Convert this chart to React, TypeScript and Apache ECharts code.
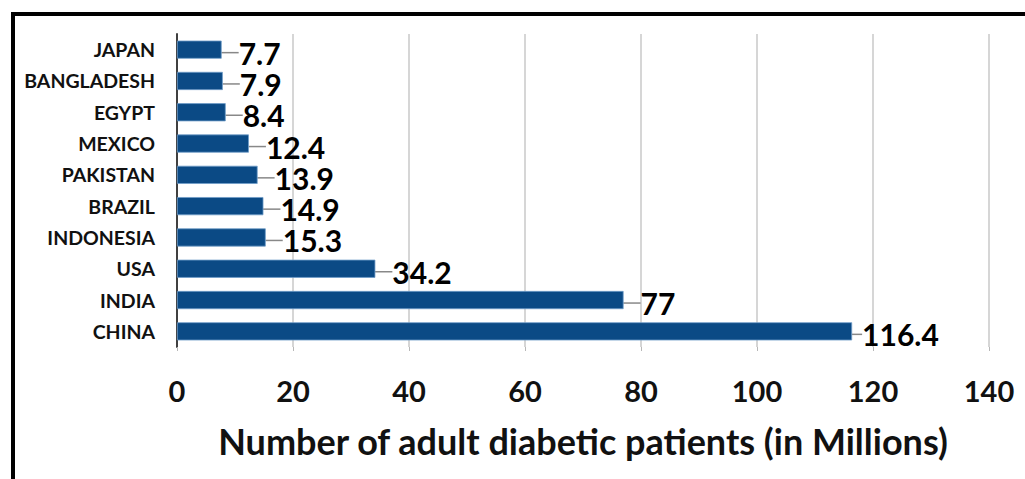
import React, { useEffect, useRef } from "react";
import * as echarts from "echarts";

// Countries listed bottom-to-top along the category axis
const countries = [
  "CHINA",
  "INDIA",
  "USA",
  "INDONESIA",
  "BRAZIL",
  "PAKISTAN",
  "MEXICO",
  "EGYPT",
  "BANGLADESH",
  "JAPAN",
];

// Adult diabetic patients, in millions
const patients = [116.4, 77, 34.2, 15.3, 14.9, 13.9, 12.4, 8.4, 7.9, 7.7];

const xTicks = { min: 0, max: 140, interval: 20 };

const FONT = "Lato, 'Open Sans', sans-serif";

export default function App() {
  const ref = useRef<HTMLDivElement>(null);

  useEffect(() => {
    if (!ref.current) return;
    const chart = echarts.init(ref.current, null, { renderer: "svg" });
    chart.setOption({
      animation: false,
      backgroundColor: "#ffffff",
      graphic: [
        {
          type: "rect",
          shape: { x: 13, y: 14, width: 1100, height: 600 },
          style: { fill: "none", stroke: "#000000", lineWidth: 4 },
          silent: true,
        },
      ],
      grid: { left: 177, right: 36, top: 34, bottom: 132, containLabel: false },
      xAxis: {
        type: "value",
        min: xTicks.min,
        max: xTicks.max,
        interval: xTicks.interval,
        axisLine: { show: false },
        axisTick: { show: true, length: 4, lineStyle: { color: "#b8b8b8" } },
        splitLine: { show: true, lineStyle: { color: "#c8c8c8", width: 1.5 } },
        axisLabel: {
          margin: 29,
          fontFamily: FONT,
          fontWeight: "bold",
          fontSize: 29,
          color: "#111111",
        },
        name: "Number of adult diabetic patients (in Millions)",
        nameLocation: "middle",
        nameGap: 76,
        nameTextStyle: {
          fontFamily: FONT,
          fontWeight: "bold",
          fontSize: 36,
          color: "#111111",
        },
      },
      yAxis: {
        type: "category",
        data: countries,
        axisLine: { show: true, lineStyle: { color: "#404040", width: 2 } },
        axisTick: { show: false },
        axisLabel: {
          margin: 22,
          fontFamily: FONT,
          fontWeight: "bold",
          fontSize: 19.5,
          color: "#111111",
        },
      },
      series: [
        {
          type: "bar",
          data: patients,
          barWidth: "58%",
          itemStyle: {
            color: "#0B4A85",
            borderColor: "#6f9cc8",
            borderWidth: 0.8,
          },
          label: {
            show: true,
            position: "right",
            distance: 4,
            fontFamily: FONT,
            fontWeight: "bold",
            fontSize: 30,
            lineHeight: 26,
            color: "#000000",
          },
          labelLayout: (params: any) =>
            params.dataIndex === 0 ? { dx: 6, dy: 3 } : { dx: 13, dy: 3 },
          labelLine: {
            show: true,
            length2: 0,
            lineStyle: { color: "#888888", width: 1.5 },
          },
        },
      ],
    });
    return () => chart.dispose();
  }, []);

  return (
    <div
      ref={ref}
      style={{ position: "absolute", left: 0, top: 0, width: 1025, height: 479 }}
    />
  );
}
